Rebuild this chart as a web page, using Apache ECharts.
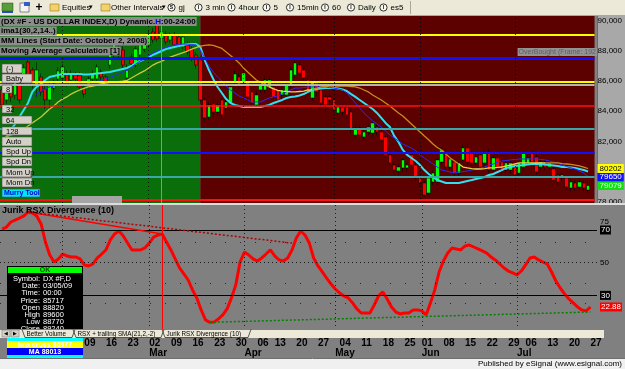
<!DOCTYPE html>
<html><head><meta charset="utf-8">
<script src="https://cdn.jsdelivr.net/npm/echarts@6/dist/echarts.min.js"></script>
<style>html,body{margin:0;padding:0;background:#808080;overflow:hidden}#c{width:625px;height:369px}</style>
</head><body><div id="c"></div>
<script>
// ---------- categories (trading days 2009) ----------
const dates = ['01-12','01-13','01-14','01-15','01-16','01-20','01-21','01-22','01-23','01-26','01-27','01-28','01-29','01-30',
'02-02','02-03','02-04','02-05','02-06','02-09','02-10','02-11','02-12','02-13','02-16','02-17','02-18','02-19','02-20','02-23','02-24','02-25','02-26','02-27',
'03-02','03-03','03-04','03-05','03-06','03-09','03-10','03-11','03-12','03-13','03-16','03-17','03-18','03-19','03-20','03-23','03-24','03-25','03-26','03-27','03-30','03-31',
'04-01','04-02','04-03','04-06','04-07','04-08','04-09','04-13','04-14','04-15','04-16','04-17','04-20','04-21','04-22','04-23','04-24','04-27','04-28','04-29','04-30',
'05-01','05-04','05-05','05-06','05-07','05-08','05-11','05-12','05-13','05-14','05-15','05-18','05-19','05-20','05-21','05-22','05-26','05-27','05-28','05-29',
'06-01','06-02','06-03','06-04','06-05','06-08','06-09','06-10','06-11','06-12','06-15','06-16','06-17','06-18','06-19','06-22','06-23','06-24','06-25','06-26','06-29','06-30',
'07-01','07-02','07-06','07-07','07-08','07-09','07-10','07-13','07-14','07-15','07-16','07-17','07-20','07-21','07-22','07-23','07-24','07-27','07-28'];

// [open, close, low, high]
const ohlc = [
[85400,84410,84100,85600],[84740,85730,84500,85900],[85930,84940,84600,86100],[85070,86060,84800,86300],[85860,84740,84500,86000],
[86060,86860,85800,87100],[87250,86390,86100,87500],[86720,85730,85500,86900],[85730,86720,84940,87250],[86260,85270,85000,86500],
[85470,84740,84140,85700],[84740,85660,84140,85900],[85530,85800,85300,86100],[86130,86660,85900,86900],[86190,86920,86000,87100],
[86460,85800,85600,86700],[86060,86460,85900,86700],[86460,86130,85900,86600],[86390,85600,85400,86600],[85600,85130,84900,85800],
[85730,86130,85500,86300],[86130,86460,85900,86700],[86130,86920,85900,87100],[86590,86260,86000,86800],[86260,85930,85700,86400],
[87050,87910,86800,88100],[87720,88580,87500,88800],[88250,87720,87500,88500],[88050,87050,86800,88300],[86200,86700,85800,87100],
[87580,87120,86900,87800],[87050,88110,86900,88300],[87720,88380,87500,88600],[88110,88780,87900,89000],[88380,89110,88200,89300],
[89240,88710,88500,89500],[89700,88780,88600,90170],[88820,89240,88770,89600],[89110,88580,88400,89300],[88710,89040,88500,89200],
[89040,88380,88200,89250],[88910,88380,88200,89100],[88250,88910,88100,89100],[88380,87910,87700,88600],[88110,87450,87300,88300],
[87720,87050,86800,87900],[87390,84740,84500,87600],[84740,83550,83300,84900],[83610,84410,83400,84600],[84470,83940,83400,84740],
[83940,84410,83700,84600],[84740,83750,83500,84900],[84210,84610,84000,84800],[84540,85600,84400,85800],[85930,86460,85700,86700],
[86260,85730,85500,86500],[85860,86520,85600,86800],[85930,84940,84700,86100],[85270,84540,84300,85400],[84410,85070,84200,85300],
[85400,85730,85200,86000],[85400,86060,85200,86300],[85600,86060,85400,86300],[85600,84940,84700,85800],[85400,84740,84500,85600],
[85070,85400,84800,85600],[85070,85730,84900,85900],[85730,86720,85500,86900],[86390,87190,86200,87400],[87050,86520,86300,87300],
[86720,86190,86000,86900],[86060,85270,85100,86200],[84870,85930,84700,86100],[85860,85270,85000,86100],[85400,84540,84300,85600],
[84940,84410,84000,85100],[84940,84740,84500,85100],[84740,84080,83900,84900],[83880,84270,83700,84400],[84270,83940,83700,84400],
[84270,83750,83500,84400],[83940,82750,82500,84100],[82420,82880,82200,83100],[82880,82420,82200,83100],[82290,82620,82100,82800],
[82620,82950,82400,83100],[82550,83220,82300,83400],[82950,82620,82400,83200],[82620,82090,81900,82800],[82290,81100,80900,82400],
[81100,80570,80400,81300],[80430,80100,79900,80600],[80040,80300,79800,80500],[80240,80770,80000,80900],[80240,80430,80000,80600],
[81100,80430,80300,81300],[80430,79570,79400,80600],[79570,79240,79000,79700],[79240,78450,78300,79400],[78580,79570,78400,79700],
[79310,79900,79100,80100],[79310,80770,79100,80900],[80630,81430,80400,81600],[81230,80300,80100,81500],[80300,80830,80100,81000],
[80630,79900,79700,80800],[79900,80570,79700,80700],[80770,81560,80600,81800],[81560,80630,80400,81800],[81230,80570,80400,81400],
[80570,80960,80400,81200],[81100,80300,80100,81300],[80570,81230,80400,81400],[81290,80100,79900,81500],[80100,80900,79900,81100],
[80900,80300,80100,81100],[80630,80100,79900,80800],[80100,80570,79900,80700],[80100,80570,79900,80700],[80300,79770,79600,80500],
[79900,80570,79700,80700],[80300,81230,80100,81400],[80570,80900,80400,81100],[81230,80630,80400,81400],[80960,79970,79800,81100],
[80300,80630,80100,80800],[80630,80300,80100,80800],[80300,80570,80100,80700],[80170,79440,79300,80300],[79770,79310,79100,79900],
[79570,79770,79400,79900],[79570,78980,78800,79700],[78910,79310,78700,79500],[79240,78910,78700,79400],[78980,79310,78800,79500],
[79240,78910,78700,79400],[78780,79079,78600,79400]];

const fastMA = [81890,82290,82750,83150,83610,84080,84540,85270,85600,85800,
86060,86260,86330,86390,86460,86460,86460,86460,86460,86430,
86430,86460,86490,86520,86560,86590,86660,86720,86790,86860,
86990,87190,87320,87450,87580,87720,87850,87980,88110,88180,
88250,88310,88380,88440,88440,88440,88250,87390,86720,86130,
85600,85200,84800,84540,84410,84340,84270,84270,84270,84270,
84270,84340,84410,84540,84640,84740,84870,84940,84970,85040,
85130,85270,85400,85470,85500,85530,85530,85530,85500,85430,
85330,85130,84940,84740,84540,84340,84140,83880,83550,83220,
82950,82360,81960,81430,81100,80900,80700,80430,80100,79840,
79640,79440,79340,79240,79240,79240,79240,79310,79380,79440,
79510,79570,79640,79770,79840,79970,80100,80240,80300,80370,
80400,80430,80470,80500,80500,80500,80470,80430,80400,80370,
80300,80300,80270,80240,80170,80100,80000];

const midMA = [null,null,null,null,null,null,null,84940,85130,85330,
85470,85600,85660,85730,85800,85800,85800,85800,85800,85830,
85860,85900,85930,86030,86130,86230,86330,86460,86590,86720,
86920,87120,87320,87450,87650,87850,87980,88110,88210,88310,
88380,88410,88440,88440,88410,88380,88050,87520,86990,86590,
86260,85990,85660,85400,85200,85000,84870,84740,84610,84610,
84610,84740,84870,84940,85000,85130,85270,85400,85530,85530,
85560,85600,85600,85600,85600,85600,85560,85530,85470,85400,
85200,84870,84540,84210,83880,83610,83350,83150,82950,82690,
82420,82220,82030,81820,81690,81560,81360,81100,80900,80700,
80500,80300,80100,80040,79970,79900,79970,80000,80040,80100,
80170,80240,80300,80430,80500,80630,80700,80730,80770,80800,
80830,80830,80830,80830,80830,80800,80770,80700,80630,80570,
80430,80340,80240,80170,80040,79900,79650];

const slowMA = [82160,82290,82420,82490,82620,82820,83020,83220,83410,83610,
83880,84140,84340,84610,84800,84940,85130,85270,85400,85500,
85600,85660,85730,85800,85860,85900,85930,85960,85990,86030,
86190,86360,86520,86660,86860,87050,87190,87290,87450,87580,
87680,87780,87880,87980,88110,88210,88310,88350,88380,88350,
88250,88150,87920,87680,87450,87190,86860,86590,86330,86060,
85900,85730,85600,85470,85370,85330,85300,85270,85270,85300,
85330,85400,85430,85500,85600,85630,85660,85660,85660,85660,
85660,85630,85600,85530,85400,85270,85070,84900,84740,84540,
84340,84110,83880,83680,83410,83150,82880,82620,82350,82110,
81820,81590,81430,81160,80900,80700,80500,80300,80240,80200,
80170,80170,80200,80240,80240,80270,80300,80370,80430,80500,
80570,80570,80570,80570,80570,80570,80570,80570,80570,80570,
80530,80500,80470,80430,80370,80300,80202];

const rsx = [70.6,71.8,74.9,76.1,77.3,78.6,81.0,80.4,78.6,73.7,
62.7,54.7,50.4,52.3,55.3,54.1,53.5,53.5,52.3,48.6,
48.0,49.2,52.9,55.3,57.8,63.9,67.6,69.4,66.3,62.0,
57.8,57.8,57.8,59.0,62.0,65.7,66.9,67.6,62.7,57.8,
52.3,46.8,43.1,39.4,33.3,28.4,21.1,15.0,13.5,13.7,
15.6,18.0,21.7,28.4,36.4,50.4,56.5,54.7,52.3,51.0,
52.9,55.3,57.8,54.1,51.7,51.0,52.9,57.8,65.1,69.4,
66.9,62.0,52.9,48.0,44.3,40.6,37.0,33.9,31.5,29.6,
28.4,25.4,21.7,19.2,19.2,19.2,24.1,29.6,32.1,27.8,
22.9,19.8,18.6,19.2,19.2,21.1,21.1,20.5,18.0,25.4,
33.3,44.3,51.0,55.9,59.0,58.4,57.8,60.2,60.8,59.6,
58.4,57.2,55.9,53.5,51.7,49.2,46.8,44.9,43.7,42.5,
44.9,48.6,52.9,53.5,51.7,50.4,49.2,44.3,38.8,34.5,
30.9,27.8,25.4,22.9,21.1,20.5,22.88];

const mmLevels = [78125, 79687.5, 81250, 82812.5, 84375, 85937.5, 87500, 89062.5];
const priceTicks = [78000, 80000, 82000, 84000, 86000, 88000, 90000];
const rsxTicks = [50, 75];
const rsxBands = [70, 30];
const weekTicks = ['02-09','02-16','02-23','03-02','03-09','03-16','03-23','03-30','04-06','04-13','04-20','04-27','05-04','05-11','05-18','05-26','06-01','06-08','06-15','06-22','06-29','07-06','07-13','07-20','07-27'];
const weekText  = ['09','16','23','02','09','16','23','30','06','13','20','27','04','11','18','25','01','08','15','22','29','06','13','20','27'];
const monthTicks = ['03-02','04-01','05-01','06-01','07-01'];
const monthText = ['Mar','Apr','May','Jun','Jul'];
const monthLines = ['02-02','03-02','04-01','05-01','06-01','07-01'];
const regimeStart = '03-18';
const cursorDate = '03-05';
const cursorPrice = 85717;
const bearSolid = [['01-21', 81.0], ['03-05', 67.6]];
const bearDotted = [['01-21', 81.0], ['04-17', 62.0]];
const bullDotted = [['03-20', 13.5], ['07-27', 19.8]];

// ---------- styling ----------
const F = '"Liberation Sans", Arial, sans-serif';
const mmStyle = {
  78125:['#ff1010',2], 79687.5:['#3aa8a8',2], 81250:['#1010ff',2], 82812.5:['#3aa8a8',2],
  84375:['#ff1010',1.5], 85937.5:['#ffff00',2], 87500:['#1010ff',3], 89062.5:['#ffff00',2]
};
const last = a => a[a.length - 1];
const ci = dates.indexOf(cursorDate);
const cur = ohlc[ci];
const hidden = {color:'rgba(0,0,0,0)', width:0};

function T(x, y, text, o) {
  o = o || {};
  return {type:'text', z: o.z == null ? 10 : o.z, x:x, y:y, silent:true,
    style:{text:text, fill:o.fill || '#000', font:o.font || ('8px ' + F),
      textAlign:o.align || 'left', align:o.align || 'left',
      textVerticalAlign:'middle', verticalAlign:'middle',
      backgroundColor:o.bg, padding:o.pad, rich:o.rich}};
}
function R(x, y, w, h, fill, stroke, z, lw) {
  return {type:'rect', z: z == null ? 10 : z, silent:true, shape:{x:x,y:y,width:w,height:h},
    style:{fill:fill, stroke:stroke || null, lineWidth: lw || 1}};
}
function L(x1, y1, x2, y2, stroke, z, lw) {
  return {type:'line', z: z == null ? 10 : z, silent:true, shape:{x1:x1,y1:y1,x2:x2,y2:y2},
    style:{stroke:stroke, lineWidth: lw || 1}};
}

const g = [];
// right price axis background
g.push(R(597, 16, 28, 187, '#a8a8a8', null, -1));
g.push(L(597.5, 16, 597.5, 203, '#6a6a6a', -1));
// toolbar
g.push(R(0, 0, 625, 16, '#ece9d8'));
g.push(L(0, 15.5, 625, 15.5, '#aca899'));
g.push(R(2, 3, 11, 8, '#5a9e3c', '#2a4a1a', 10, 0.5));
g.push(R(2, 11, 11, 2, '#2050c0'));
g.push(R(20, 3, 9, 9, '#f4f4f4', '#404040', 10, 0.6));
g.push(R(24, 2, 6, 4, '#3060c0'));
g.push(T(39, 7.5, '+', {font:'bold 12px ' + F, align:'center'}));
g.push(R(50, 4, 9, 7, '#f2d26a', '#9a7a20', 10, 0.6));
g.push(T(62, 7.5, 'Equities'));
g.push(T(89, 7.5, '▾', {font:'7px ' + F}));
g.push(R(101, 4, 9, 7, '#f2d26a', '#9a7a20', 10, 0.6));
g.push(T(111, 7.5, 'Other Intervals'));
g.push(T(162, 7.5, '▾', {font:'7px ' + F}));
[[171.5,'S','gj'],[198.5,'I','3 min'],[231.5,'I','4hour'],[266.5,'I','5'],[290,'I','15min'],[325,'I','60'],[351,'I','Daily'],[383.5,'I','es5']].forEach(function (b) {
  g.push({type:'circle', z:10, silent:true, shape:{cx:b[0], cy:7.5, r:3.6}, style:{fill:'#f8f8f0', stroke:'#000', lineWidth:0.8}});
  g.push(T(b[0], 7.7, b[1], {font:'bold 5px ' + F, align:'center'}));
  g.push(T(b[0] + 7, 7.5, b[2]));
});
g.push(L(410.5, 1, 410.5, 14, '#aca899'));
// study titles over the price pane
const TF = 'bold 8px ' + F;
g.push(T(0, 21.5, '{a|(DX #F - US DOLLAR INDEX,D) Dynamic.}{h|H}{a|:00-24:00}', {bg:'#8c8c8c', pad:[1,1,0,1],
  rich:{a:{font:TF, fill:'#000', color:'#000'}, h:{font:TF, fill:'#0000ff', color:'#0000ff'}}}));
g.push(T(0, 31, 'ima1(30,2,14..)', {font:TF, bg:'#8c8c8c', pad:[1,1,0,1]}));
g.push(T(0, 41, 'MM Lines (Start Date: October 2, 2008)', {font:TF, bg:'#8c8c8c', pad:[1,1,0,1]}));
g.push(T(0, 51, 'Moving Average Calculation [1]', {font:TF, bg:'#8c8c8c', pad:[1,1,0,1]}));
g.push(T(597, 52, 'OverBought (Frame: 192', {font:'7px ' + F, fill:'#5e5e5e', bg:'#929292', pad:[1,1,0,1], align:'right'}));
// Murrey buttons
[['(-)',2,64,20,9],['Baby',2,74,30,9],['8',2,85,10,8],['32',2,105,10,8],['64',2,116,30,8],['128',2,127,30,8],
 ['Auto',2,137,30,9],['Spd Up',2,147,30,9],['Spd Dn',2,157,30,9],['Mom Up',2,168,30,9],['Mom Dn',2,178,30,9]].forEach(function (b) {
  g.push(R(b[1], b[2], b[3], b[4], '#d4d0c8', '#505050', 10, 0.6));
  g.push(T(b[1] + 4, b[2] + b[4] / 2 + 0.5, b[0], {font:'7.5px ' + F}));
});
g.push(R(2, 189, 38, 8, '#00e4ff', '#505050', 10, 0.6));
g.push(T(4, 193.5, 'Murry Tool', {font:'bold 7px ' + F, fill:'#0000c8'}));
g.push(R(72, 196, 50, 7, '#a4a4a4'));
// pane separator
g.push(R(0, 203, 625, 2, '#dcdcdc'));
// indicator title
g.push(T(2, 211, 'Jurik RSX Divergence (10)', {font:'bold 9px ' + F}));
// data window
g.push(R(7, 266, 76, 64, '#000'));
g.push(R(8, 267, 74, 6, '#00ff00'));
g.push(T(45, 270.5, 'OK', {font:'bold 7px ' + F, fill:'#005000', align:'center'}));
[['Symbol:','DX #F,D'],['Date:','03/05/09'],['Time:','00:00'],['Price:', String(cursorPrice)],
 ['Open', String(cur[0])],['High', String(cur[3])],['Low', String(cur[2])],['Close', String(cur[1])]].forEach(function (r, k) {
  const yy = 279 + k * 7.2;
  g.push(T(40, yy, r[0], {font:'7.5px ' + F, fill:'#fff', align:'right'}));
  g.push(T(43, yy, r[1], {font:'7.5px ' + F, fill:'#fff'}));
});
// tab strip
g.push(R(0, 329, 604, 9, '#ece9d8'));
g.push(L(0, 329.5, 604, 329.5, '#808080'));
g.push(R(2, 330, 8, 7, '#d4d0c8', '#808080', 10, 0.6));
g.push(R(11, 330, 8, 7, '#d4d0c8', '#808080', 10, 0.6));
g.push(T(6, 333.5, '◀', {font:'5px ' + F, align:'center'}));
g.push(T(15, 333.5, '▶', {font:'5px ' + F, align:'center'}));
[[22,'Better Volume',50],[73,'RSX + trailing SMA(21,2,-2)',88],[162,'Jurik RSX Divergence (10)',86]].forEach(function (t) {
  g.push({type:'polyline', z:10, silent:true, shape:{points:[[t[0],329.5],[t[0]+3,337.5],[t[0]+t[2],337.5],[t[0]+t[2]+3,329.5]]},
    style:{stroke:'#303030', lineWidth:0.8, fill:null}});
  g.push(T(t[0] + 4.5, 333.8, t[1], {font:'6.3px ' + F}));
});
// cursor legend boxes
g.push(R(7, 338, 76, 3, '#00ffff'));
g.push(R(7, 341, 76, 7, '#ffff00'));
g.push(T(45, 344.8, 'ima cross 86977', {font:'bold 7px ' + F, fill:'#ffffff', align:'center'}));
g.push(R(7, 348, 76, 7, '#0000ff'));
g.push(T(45, 351.8, 'MA 88013', {font:'bold 7px ' + F, fill:'#ffffff', align:'center'}));
g.push(R(7, 355, 76, 3, '#00ffff'));
// status bar
g.push(R(0, 358, 625, 11, '#f0f0f0'));
g.push(L(0, 358.5, 625, 358.5, '#707070'));
g.push(T(622, 364, 'Published by eSignal (www.esignal.com)', {font:'8px ' + F, align:'right'}));

// ---------- marks ----------
const dotted = {color:'#000', type:[1,3], width:1, opacity:0.75};
const topMarkLines = mmLevels.map(function (v) {
  return {yAxis:v, lineStyle:{color:mmStyle[v][0], width:mmStyle[v][1], type:'solid'}};
});
topMarkLines.push({yAxis:cursorPrice, lineStyle:{color:'#b4b4b4', width:2, type:'solid'}});
monthLines.forEach(function (d) { topMarkLines.push({xAxis:d, lineStyle:dotted}); });
topMarkLines.push({xAxis:cursorDate, lineStyle:{color:'#9088b8', width:1, type:'solid'}});
topMarkLines.push({yAxis:last(ohlc)[1], lineStyle:hidden,
  label:{show:true, position:'end', distance:3, formatter:String(last(ohlc)[1]), backgroundColor:'#10e010', color:'#fff', fontSize:8, fontFamily:F, padding:[1,2,0,2]}});

const botMarkLines = [];
rsxBands.forEach(function (v) { botMarkLines.push({yAxis:v, lineStyle:{color:'#000', width:1.2, type:'solid'},
  label:{show:true, position:'end', distance:3, formatter:String(v), backgroundColor:'#000', color:'#fff', fontSize:8, fontFamily:F, padding:[1,1,0,1]}}); });
botMarkLines.push({yAxis:50, lineStyle:{color:'#000', width:1, type:[1,3], opacity:0.8}});
[62.5, 37.5, 25].forEach(function (v) { botMarkLines.push({yAxis:v, lineStyle:{color:'#000', width:1, type:[1,14], opacity:0.7}}); });
monthLines.forEach(function (d) { botMarkLines.push({xAxis:d, lineStyle:dotted}); });
botMarkLines.push({xAxis:cursorDate, lineStyle:{color:'#ff0000', width:1, type:'solid'}});
botMarkLines.push([{coord:bearSolid[0], lineStyle:{color:'#ff0000', width:1.5, type:'solid'}}, {coord:bearSolid[1]}]);
botMarkLines.push([{coord:bearDotted[0], lineStyle:{color:'#b00000', width:1.5, type:[2,2]}}, {coord:bearDotted[1]}]);
botMarkLines.push([{coord:bullDotted[0], lineStyle:{color:'#008000', width:1.5, type:[2,2]}}, {coord:bullDotted[1]}]);
botMarkLines.push({yAxis:last(rsx), lineStyle:hidden,
  label:{show:true, position:'end', distance:3, formatter:last(rsx).toFixed(2), backgroundColor:'#ff0000', color:'#fff', fontSize:8, fontFamily:F, padding:[1,1,0,1]}});

const option = {
  animation:false,
  backgroundColor:'#808080',
  graphic:{elements:g},
  grid:[
    {left:0, top:16, width:597, height:187, show:false},
    {left:0, top:205, width:597, height:125, show:true, backgroundColor:'#808080', borderWidth:0}
  ],
  xAxis:[
    {type:'category', gridIndex:0, data:dates, axisLine:{show:false}, axisTick:{show:false}, axisLabel:{show:false}, splitLine:{show:false}},
    {type:'category', gridIndex:1, data:dates, axisLine:{show:false}, axisTick:{show:false}, splitLine:{show:false},
      axisLabel:{show:true, interval:function (i, v) { return weekTicks.indexOf(v) >= 0; },
        formatter:function (v) { return weekText[weekTicks.indexOf(v)]; },
        align:'left', margin:8, color:'#000', fontWeight:'bold', fontSize:10, fontFamily:F}},
    {type:'category', gridIndex:1, data:dates, position:'bottom', offset:10, axisLine:{show:false}, axisTick:{show:false}, splitLine:{show:false},
      axisLabel:{show:true, interval:function (i, v) { return monthTicks.indexOf(v) >= 0; },
        formatter:function (v) { return monthText[monthTicks.indexOf(v)]; },
        align:'left', margin:8, color:'#000', fontWeight:'bold', fontSize:10, fontFamily:F}}
  ],
  yAxis:[
    {type:'value', gridIndex:0, position:'right', min:77918, max:90298, axisLine:{show:false}, axisTick:{show:false}, splitLine:{show:false},
      axisLabel:{customValues:priceTicks, showMinLabel:true, showMaxLabel:true, hideOverlap:false, color:'#000', fontSize:8, fontFamily:F, margin:3}},
    {type:'value', gridIndex:1, position:'right', min:8.8, max:85.3, axisLine:{show:false}, axisTick:{show:false}, splitLine:{show:false},
      axisLabel:{customValues:rsxTicks, showMinLabel:true, showMaxLabel:true, hideOverlap:false, color:'#000', fontSize:8, fontFamily:F, margin:3}}
  ],
  visualMap:[{type:'piecewise', show:false, seriesIndex:3, dimension:0,
    pieces:[{lt:46, color:'#c8c83c'}, {gte:46, lt:62, color:'#c88c1e'}, {gte:62, lt:72, color:'#e6d864'},
            {gte:72, lt:106, color:'#c88c1e'}, {gte:106, lt:126, color:'#e8d448'}, {gte:126, color:'#c88c1e'}]}],
  series:[
    {type:'candlestick', xAxisIndex:0, yAxisIndex:0, data:ohlc, barWidth:4,
      itemStyle:{color:'#00ff00', color0:'#ff0000', borderColor:'#000', borderColor0:'#000', borderWidth:0.5},
      markArea:{silent:true, data:[
        [{itemStyle:{color:'#0a6e0a'}}, {xAxis:regimeStart}],
        [{xAxis:regimeStart, itemStyle:{color:'#5c0000'}}, {}]
      ]},
      markLine:{silent:true, symbol:['none','none'], label:{show:false}, data:topMarkLines}},
    {type:'line', xAxisIndex:0, yAxisIndex:0, data:fastMA, showSymbol:false, lineStyle:{color:'#30e0f0', width:2}, itemStyle:{color:'#30e0f0'}},
    {type:'line', xAxisIndex:0, yAxisIndex:0, data:midMA, showSymbol:false, lineStyle:{color:'#2a2aff', width:1}, itemStyle:{color:'#2a2aff'},
      markLine:{silent:true, symbol:['none','none'], data:[{yAxis:last(midMA), lineStyle:hidden,
        label:{show:true, position:'end', distance:3, formatter:String(last(midMA)), backgroundColor:'#1010ff', color:'#fff', fontSize:8, fontFamily:F, padding:[1,2,0,2]}}]}},
    {type:'line', xAxisIndex:0, yAxisIndex:0, data:slowMA, showSymbol:false, lineStyle:{width:1.3},
      markLine:{silent:true, symbol:['none','none'], data:[{yAxis:last(slowMA), lineStyle:hidden,
        label:{show:true, position:'end', distance:3, formatter:String(last(slowMA)), backgroundColor:'#ffff00', color:'#000', fontSize:8, fontFamily:F, padding:[1,2,0,2]}}]}},
    {type:'line', xAxisIndex:1, yAxisIndex:1, data:rsx, showSymbol:false, lineStyle:{color:'#ff0000', width:3}, itemStyle:{color:'#ff0000'},
      markLine:{silent:true, symbol:['none','none'], label:{show:false}, data:botMarkLines}}
  ]
};
const chart = echarts.init(document.getElementById('c'));
chart.setOption(option);
</script></body></html>
